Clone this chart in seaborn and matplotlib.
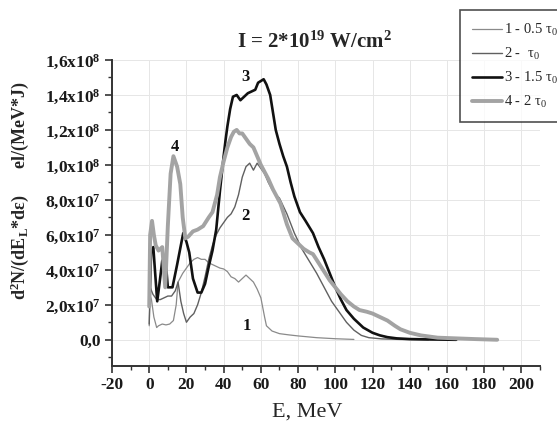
import numpy as np
import pandas as pd
import matplotlib as mpl
from matplotlib import pyplot as plt
import seaborn as sns

# Spectra (E in MeV, N in units of 1e7)
e_1 = [0, 0.4, 1.2, 2.5, 4, 5, 7, 9, 11, 13, 14.5, 15.5, 16.5, 18, 20, 22, 24, 26, 28, 30,
       32, 34, 36, 38, 40, 42, 44, 46, 48, 50, 52, 54, 56, 58, 60, 62, 63, 66, 70, 75, 80,
       90, 100, 110]
n_1 = [0.8, 2.6, 2.3, 1.3, 0.7, 0.8, 0.9, 0.85, 0.9, 1.1, 2.0, 3.3, 3.5, 3.8, 4.1, 4.4, 4.6, 4.7, 4.6, 4.6,
       4.4, 4.3, 4.2, 4.1, 4.05, 3.9, 3.6, 3.5, 3.3, 3.5, 3.7, 3.5, 3.3, 2.9, 2.4, 1.3, 0.8, 0.5, 0.35, 0.28, 0.22,
       0.12, 0.06, 0.02]

e_2 = [0, 0.5, 2, 4, 6, 8, 10, 12, 14, 15.5, 17, 18.5, 20, 22, 24, 26, 28, 30, 32, 34,
       36, 38, 40, 42, 44, 46, 48, 50, 52, 54, 56, 58, 60, 62, 64, 66, 68, 70, 74, 78,
       82, 86, 90, 94, 98, 102, 106, 110, 114, 118, 125, 135, 150]
n_2 = [0.9, 3.0, 2.6, 2.3, 2.3, 2.4, 2.5, 2.5, 2.8, 3.3, 2.2, 1.5, 1.0, 1.3, 1.5, 2.0, 2.7, 3.6, 4.6, 5.4,
       6.0, 6.4, 6.7, 7.0, 7.2, 7.6, 8.3, 9.3, 9.9, 10.1, 9.7, 10.1, 9.8, 9.5, 9.0, 8.6, 8.3, 8.1, 7.2, 6.1,
       5.2, 4.5, 3.8, 3.0, 2.2, 1.6, 1.0, 0.55, 0.25, 0.12, 0.05, 0.02, 0.0]

e_3 = [0.3, 1.0, 2.2, 3.2, 4.3, 5.5, 7, 8.6, 10, 12.5, 15, 17, 18.3, 20, 21.5, 23.5, 26, 28, 30, 32,
       34, 36, 38, 40, 41, 42, 43.5, 45, 47, 49, 51, 53, 55, 57, 58.5, 60, 61.5, 63, 65, 66.5,
       68, 70, 72, 74, 76, 78, 81, 84, 88, 91, 94, 97, 100, 103, 106, 110, 115, 120, 124, 128,
       133, 140, 150, 165]
n_3 = [2.5, 5.0, 5.3, 3.8, 2.2, 3.2, 4.5, 4.8, 3.0, 3.0, 4.3, 5.4, 6.1, 5.6, 5.0, 3.5, 2.7, 2.7, 3.2, 4.2,
       5.1, 6.3, 8.5, 10.5, 11.4, 12.2, 13.2, 13.9, 14.0, 13.7, 13.9, 14.1, 14.2, 14.3, 14.7, 14.8, 14.9, 14.6, 14.0, 13.0,
       12.0, 11.2, 10.5, 9.9, 9.0, 8.2, 7.3, 6.8, 6.1, 5.3, 4.6, 3.8, 3.0, 2.3, 1.7, 1.2, 0.7, 0.4, 0.25, 0.15,
       0.08, 0.04, 0.02, 0.0]

e_4 = [0, 0.5, 1.5, 2.5, 3.5, 5, 7, 8.6, 10, 11.5, 13, 15, 16.7, 18, 19.4, 21, 23.5, 26, 29, 32,
       34, 36.5, 38, 40, 42, 44, 45.5, 47, 48.5, 50, 52, 54, 56, 58, 60, 62, 64, 66.5, 68.5, 70.5,
       72, 74, 77, 80, 83, 86, 88, 91, 94, 97, 100, 103, 106.5, 110, 113, 117, 120, 124, 128, 132,
       135, 140, 146, 155, 165, 175, 187]
n_4 = [1.9, 6.0, 6.8, 6.0, 5.4, 5.1, 5.3, 3.0, 6.5, 9.5, 10.5, 9.9, 8.9, 7.0, 5.8, 5.9, 6.2, 6.3, 6.5, 7.0,
       7.3, 8.3, 9.3, 10.2, 11.0, 11.6, 11.9, 12.0, 11.8, 11.8, 11.5, 11.2, 11.0, 10.5, 10.0, 9.6, 9.2, 8.6, 8.2, 7.8,
       7.3, 6.6, 5.8, 5.5, 5.2, 5.0, 4.9, 4.4, 3.9, 3.4, 3.0, 2.6, 2.2, 1.9, 1.7, 1.6, 1.5, 1.3, 1.1, 0.8,
       0.6, 0.4, 0.25, 0.12, 0.08, 0.04, 0.0]

series_labels = ["1 - 0.5 τ$_\\mathrm{0}$", "2 -  τ$_\\mathrm{0}$", "3 - 1.5 τ$_\\mathrm{0}$", "4 - 2 τ$_\\mathrm{0}$"]
curve_tags = ["1", "2", "3", "4"]
tag_pos = [(52.7, 0.8e7), (51.6, 7.1e7), (51.6, 1.50e8), (14.0, 1.10e8)]

x_ticks = list(range(-20, 201, 20))
y_ticks = [0, 2e7, 4e7, 6e7, 8e7, 1.0e8, 1.2e8, 1.4e8, 1.6e8]
y_tick_labels = ["0,0", "2,0x10$^{7}$", "4,0x10$^{7}$", "6,0x10$^{7}$", "8,0x10$^{7}$",
                 "1,0x10$^{8}$", "1,2x10$^{8}$", "1,4x10$^{8}$", "1,6x10$^{8}$"]

sns.set_style("ticks")
mpl.rc('font', family=['Liberation Serif', 'DejaVu Serif'])
mpl.rc('mathtext', fontset='custom', rm='Liberation Serif', bf='Liberation Serif:bold',
       it='Liberation Serif:italic', default='bf')

fig = plt.figure(figsize=(5.57, 4.28), dpi=100)
ax = fig.add_axes([112 / 557, 1 - 366 / 428, 428 / 557, 306 / 428])

# line styles per curve
colors = ['#8a8a8a', '#606060', '#111111', '#a3a3a3']
widths = [0.9, 1.0, 1.9, 2.8]

all_e = [e_1, e_2, e_3, e_4]
all_n = [n_1, n_2, n_3, n_4]
for e, n, lab, c, w in zip(all_e, all_n, series_labels, colors, widths):
    df = pd.DataFrame({'E': e, 'N': np.array(n) * 1e7})
    sns.lineplot(data=df, x='E', y='N', ax=ax, color=c, linewidth=w, label=lab, zorder=3)

for tag, (tx, ty) in zip(curve_tags, tag_pos):
    ax.text(tx, ty, tag, fontsize=12, fontweight='bold', ha='center', va='center', color='#111111')

ax.set_xlim(-20, 210)
ax.set_ylim(-1.5e7, 1.6e8)
ax.set_xticks(x_ticks)
ax.set_xticklabels([str(t) for t in x_ticks])
ax.set_yticks(y_ticks)
ax.set_yticklabels(y_tick_labels)
ax.xaxis.set_minor_locator(mpl.ticker.MultipleLocator(10))
ax.yaxis.set_minor_locator(mpl.ticker.MultipleLocator(1e7))
for lbl in ax.get_xticklabels() + ax.get_yticklabels():
    lbl.set_fontweight('bold')
    lbl.set_fontsize(12.5)
    lbl.set_color('#1a1a1a')

ax.tick_params(which='major', direction='out', length=5, width=1.2, color='#333333', pad=3)
ax.tick_params(which='minor', direction='out', length=3, width=1.0, color='#333333')
ax.grid(which='major', color='#e6e6e6', linewidth=0.7, zorder=0)
sns.despine(ax=ax)
for s in ['left', 'bottom']:
    ax.spines[s].set_linewidth(1.4)
    ax.spines[s].set_color('#333333')

ax.set_title("I = 2*10$^{19}$ W/cm$^{2}$", fontsize=15, fontweight='bold', x=0.474, pad=9)
ax.set_xlabel("E, MeV", fontsize=16)
ax.xaxis.set_label_coords(0.456, -0.12)
ax.set_ylabel("d$^{2}$N/(dE$_{L}$*dε)      el/(MeV*J)", fontsize=13, fontweight='bold')
ax.yaxis.set_label_coords(-0.19, 0.572)

ax.get_legend().remove()
handles, labels = ax.get_legend_handles_labels()
leg = fig.legend(handles, labels, loc='upper left', bbox_to_anchor=(460 / 557, 1 - 10 / 428),
                 fontsize=10.5, frameon=True, fancybox=False, edgecolor='#222222',
                 handlelength=2.1, handletextpad=0.1, borderpad=0.8, labelspacing=0.55,
                 borderaxespad=0)
leg.get_frame().set_linewidth(1.2)
for t in leg.get_texts():
    t.set_fontweight('normal')

fig.savefig('out.png', dpi=100)
